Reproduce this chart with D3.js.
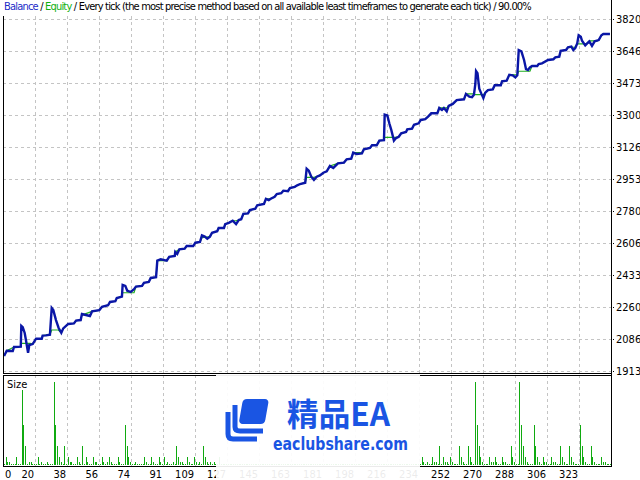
<!DOCTYPE html>
<html>
<head>
<meta charset="utf-8">
<script src="https://cdn.jsdelivr.net/npm/d3@7"></script>
<style>
  body { margin: 0; background: #fff; }
  svg text { font-family: "Liberation Sans Narrow", "DejaVu Sans Condensed", "Liberation Sans", sans-serif; }
</style>
</head>
<body>
<svg id="chart" width="640" height="480"></svg>
<script>
// ---- data ----
var tradeCount = 342;
var yTickLabels = ["1913", "2086", "2260", "2433", "2606", "2780", "2953", "3126", "3300", "3473", "3646", "3820"];
var xTickLabels = ["0", "20", "38", "56", "74", "91", "109", "127", "145", "163", "181", "198", "216", "234", "252", "270", "288", "306", "323"];
var tradesPerTick = 18;

// [trade, balance]
var balance = [[0.6,1994],[2.1,2023],[5.5,2021],[6.2,2043],[10,2045],[10.3,2157],[11.1,2150],[12.2,2119],[12.9,2081],[14.1,2012],
  [14.8,2054],[16.7,2059],[18.6,2088],[21.8,2088],[22.3,2105],[24.2,2106],[26.4,2110],[27.4,2254],[28.3,2243],[29.8,2189],
  [31.3,2146],[32.8,2120],[33.9,2144],[36.7,2168],[39.9,2171],[41.1,2186],[43.7,2189],[44.4,2222],[48.9,2211],[50.1,2236],
  [54.2,2243],[55.7,2261],[59.1,2269],[60.2,2287],[63.2,2291],[64,2308],[66.9,2316],[67.3,2379],[68.8,2374],[69.9,2348],
  [71.8,2341],[73.7,2356],[74.8,2370],[78.2,2374],[79.3,2391],[82,2395],[83.1,2417],[86.1,2421],[86.8,2511],[88.7,2518],
  [92.1,2511],[93.5,2532],[96.6,2536],[96.9,2558],[98,2547],[99.2,2572],[102.2,2576],[103.3,2590],[107,2590],[108.2,2608],
  [110.8,2612],[111.9,2648],[113.5,2641],[114.9,2630],[116.4,2641],[117.6,2662],[120.5,2670],[121.3,2688],[124.3,2688],[125,2709],
  [127,2716],[129.2,2727],[131.1,2709],[132.6,2731],[134,2735],[135.2,2764],[137.8,2767],[138.9,2785],[141.9,2792],[143,2811],
  [146.8,2818],[147.9,2846],[149.5,2839],[150.6,2846],[152.8,2857],[154,2872],[156.5,2876],[157.7,2890],[160.3,2887],[161.4,2904],
  [164.1,2911],[165.5,2919],[167.1,2926],[170,2933],[170.8,3009],[172,2998],[173.4,2966],[174.9,2948],[176.5,2966],[178.3,2973],
  [180.2,2987],[182.1,2995],[183.9,3024],[185.8,3013],[188.4,3038],[191.8,3042],[193.3,3060],[195.9,3063],[197,3096],[198.9,3089],
  [201.9,3092],[203,3114],[206.4,3121],[207.6,3136],[210.2,3136],[211.7,3161],[214.3,3164],[214.7,3302],[216.2,3298],[217.3,3255],
  [218.4,3219],[219.9,3161],[221.1,3175],[222.6,3182],[224,3201],[226.7,3208],[227.4,3222],[230.1,3226],[231.2,3247],[233.8,3255],
  [235,3273],[237.5,3277],[239.1,3291],[240.9,3309],[244.3,3309],[245.4,3338],[246.9,3327],[248,3338],[249.6,3320],[250.7,3349],
  [253,3360],[255.2,3381],[259.3,3385],[260.4,3414],[262.3,3399],[263.8,3396],[264.9,3410],[265.7,3468],[266.1,3538],[266.9,3527],
  [267.9,3442],[269,3417],[270.2,3392],[271.3,3421],[272.8,3435],[275.5,3439],[276.6,3461],[280,3461],[280.7,3482],[283.3,3486],
  [284.8,3518],[286.7,3515],[288.2,3504],[289.3,3515],[290.1,3652],[291.6,3645],[293.1,3598],[294.2,3548],[295.3,3544],[296.4,3558],
  [297.6,3565],[300.5,3565],[301.3,3576],[303.2,3580],[306.6,3598],[309.6,3602],[310.7,3612],[312.9,3616],[313.7,3648],[316.7,3652],
  [317.8,3667],[319.7,3670],[320.8,3652],[321.9,3663],[323,3688],[323.8,3732],[325,3724],[325.7,3702],[327.5,3677],[328.6,3688],
  [329.8,3699],[331.3,3674],[332.8,3699],[335.1,3706],[336.6,3732],[337.7,3739],[341.4,3739]];

// [trade, equity]
var equity = [[0.6,1994],[2.1,2023],[6.2,2043],[10,2045],[10.3,2063],[15.2,2063],[16.7,2059],[18.6,2088],[21.8,2088],[22.3,2105],
  [26.4,2110],[27.4,2135],[31.1,2135],[32.8,2120],[33.9,2144],[36.7,2168],[39.9,2171],[41.1,2186],[43.7,2189],[44.4,2216],
  [50.1,2236],[54.2,2243],[55.7,2261],[59.1,2269],[60.2,2287],[63.2,2291],[64,2308],[66.9,2316],[67.3,2337],[73.7,2337],
  [74.8,2370],[78.2,2374],[79.3,2391],[82,2395],[83.1,2417],[86.1,2421],[86.8,2511],[92.1,2511],[93.5,2532],[96.6,2536],
  [96.9,2558],[99.2,2572],[102.2,2576],[103.3,2590],[107,2590],[108.2,2608],[110.8,2612],[111.9,2635],[116.4,2641],[117.6,2662],
  [120.5,2670],[121.3,2688],[124.3,2688],[125,2709],[127,2716],[129.2,2727],[131.1,2727],[132.6,2731],[134,2735],[135.2,2764],
  [137.8,2767],[138.9,2785],[141.9,2792],[143,2811],[146.8,2818],[147.9,2846],[150.6,2846],[152.8,2857],[154,2872],[156.5,2876],
  [157.7,2890],[160.3,2890],[161.4,2904],[164.1,2911],[167.1,2926],[170,2933],[170.8,2962],[174.9,2962],[176.5,2966],[178.3,2973],
  [180.2,2987],[182.1,2995],[183.9,3024],[188.4,3038],[191.8,3042],[193.3,3060],[195.9,3063],[197,3096],[201.9,3096],[203,3114],
  [206.4,3121],[207.6,3136],[210.2,3136],[211.7,3161],[214.3,3164],[214.7,3179],[221.1,3179],[222.6,3182],[224,3201],[226.7,3208],
  [227.4,3222],[230.1,3226],[231.2,3247],[233.8,3255],[235,3273],[237.5,3277],[239.1,3291],[240.9,3309],[244.3,3309],[245.4,3338],
  [249.6,3338],[250.7,3349],[253,3360],[255.2,3381],[259.3,3385],[260.4,3414],[264.9,3414],[265.7,3410],[270.2,3410],[271.3,3421],
  [272.8,3435],[275.5,3439],[276.6,3461],[280,3461],[280.7,3482],[283.3,3486],[284.8,3518],[289.3,3518],[290.1,3537],[296.4,3537],
  [297.6,3565],[300.5,3565],[301.3,3576],[303.2,3580],[306.6,3598],[309.6,3602],[310.7,3612],[312.9,3616],[313.7,3648],[316.7,3652],
  [317.8,3667],[321.9,3667],[323,3685],[327.5,3685],[328.6,3688],[329.8,3702],[334.3,3702],[335.1,3706],[336.6,3732],[337.7,3739],
  [341.4,3739]];

// lot sizes of trades above the minimum lot (all other trades = minLot)
var minLot = 0.01, maxLot = 0.32;
var lotTrades = [1,2,3,7,10,11,12,14,15,19,21,24,28,29,30,31,32,34,36,37,38,41,42,44,46,47,50,51,52,55,56,58,59,60,64,65,
  68,69,70,71,74,79,80,83,84,87,88,90,92,95,97,98,99,100,103,104,107,108,110,112,113,114,116,118,121,
  235,236,238,241,242,243,245,247,248,249,251,252,256,257,258,261,262,263,265,266,267,268,269,273,274,275,276,277,280,281,282,
  285,286,287,290,291,292,293,294,298,299,300,301,303,304,305,308,309,310,313,314,315,318,319,320,324,325,326,327,330,331,332,336,337,338];
var lotSizes = [0.04,0.02,0.02,0.04,0.29,0.16,0.08,0.02,0.02,0.04,0.02,0.02,0.32,0.16,0.08,0.04,0.02,0.08,0.04,0.02,0.02,0.04,0.02,0.08,0.04,0.02,0.04,0.02,0.02,0.04,0.02,0.02,0.04,0.02,0.04,0.02,
  0.16,0.08,0.04,0.02,0.02,0.04,0.02,0.04,0.02,0.04,0.02,0.04,0.02,0.02,0.08,0.04,0.02,0.02,0.04,0.02,0.04,0.02,0.02,0.08,0.04,0.02,0.02,0.02,0.04,
  0.04,0.02,0.02,0.04,0.02,0.02,0.08,0.04,0.02,0.02,0.04,0.02,0.08,0.04,0.02,0.08,0.04,0.02,0.32,0.16,0.08,0.04,0.02,0.04,0.02,0.02,0.04,0.02,0.04,0.02,0.02,
  0.08,0.04,0.02,0.32,0.16,0.08,0.04,0.02,0.16,0.08,0.04,0.02,0.04,0.02,0.02,0.04,0.02,0.02,0.08,0.04,0.02,0.08,0.04,0.02,0.16,0.08,0.04,0.02,0.08,0.04,0.02,0.04,0.02,0.02];

// ---- layout ----
var left = 3, right = 611;
var mainTop = 16, mainBottom = 373;
var sizeTop = 375, sizeBottom = 466;

var svg = d3.select("#chart");

var x = d3.scaleLinear().domain([0, tradeCount]).range([left, right]);
var y = d3.scaleLinear().domain([+yTickLabels[0], +yTickLabels[yTickLabels.length - 1]]).range([371, 19]);
var ySize = d3.scaleLinear().domain([minLot, maxLot]).range([465, 382]);

svg.append("rect").attr("width", 640).attr("height", 480).attr("fill", "#fff");

var grid = svg.append("g")
    .attr("stroke", "#c4c4c4")
    .attr("stroke-dasharray", "3,3")
    .attr("shape-rendering", "crispEdges");

// horizontal grid of balance panel
grid.selectAll("line.h")
  .data(yTickLabels)
  .enter().append("line")
    .attr("class", "h")
    .attr("x1", left).attr("x2", right)
    .attr("y1", function(d) { return Math.round(y(+d)) + 0.5; })
    .attr("y2", function(d) { return Math.round(y(+d)) + 0.5; });

// vertical grid, both panels
xTickLabels.forEach(function(d, i) {
  if (i == 0) return;
  var gx = Math.round(x(i * tradesPerTick)) + 0.5;
  grid.append("line").attr("x1", gx).attr("x2", gx).attr("y1", mainTop).attr("y2", mainBottom);
  grid.append("line").attr("x1", gx).attr("x2", gx).attr("y1", sizeTop).attr("y2", sizeBottom);
});

// ---- balance / equity ----
svg.append("clipPath").attr("id", "mainClip")
  .append("rect").attr("x", left).attr("y", mainTop).attr("width", right - left).attr("height", mainBottom - mainTop);

var line = d3.line()
    .x(function(d) { return x(d[0]); })
    .y(function(d) { return y(d[1]); });

var plot = svg.append("g").attr("clip-path", "url(#mainClip)");

plot.append("path")
    .datum(equity)
    .attr("fill", "none")
    .attr("stroke", "#1fae1f")
    .attr("stroke-width", 1.2)
    .attr("d", line);

plot.append("path")
    .datum(balance)
    .attr("fill", "none")
    .attr("stroke", "#0a16a6")
    .attr("stroke-width", 2.4)
    .attr("stroke-linejoin", "miter")
    .attr("d", line);

// ---- size panel ----
var lotOf = {};
lotTrades.forEach(function(t, i) { lotOf[t] = lotSizes[i]; });
var trades = d3.range(tradeCount);

var bars = svg.append("g").attr("shape-rendering", "crispEdges");
bars.selectAll("rect")
  .data(trades)
  .enter().append("rect")
    .attr("x", function(t) { return Math.round(x(t + 0.5)); })
    .attr("width", 1)
    .attr("y", function(t) { var l = lotOf[t] || minLot; return Math.min(Math.round(ySize(l)), 464); })
    .attr("height", function(t) { var l = lotOf[t] || minLot; return 465 - Math.min(Math.round(ySize(l)), 464); })
    .attr("fill", "#10aa10");

// ---- frames ----
var frame = svg.append("g").attr("stroke", "#000").attr("shape-rendering", "crispEdges").attr("fill", "none");
frame.append("line").attr("x1", left + 0.5).attr("x2", left + 0.5).attr("y1", mainTop).attr("y2", mainBottom + 1);
frame.append("line").attr("x1", left).attr("x2", right + 1).attr("y1", mainBottom + 0.5).attr("y2", mainBottom + 0.5);
frame.append("line").attr("x1", right + 0.5).attr("x2", right + 0.5).attr("y1", 0).attr("y2", sizeBottom + 1);
frame.append("line").attr("x1", left).attr("x2", right + 1).attr("y1", sizeTop + 0.5).attr("y2", sizeTop + 0.5);
frame.append("line").attr("x1", left + 0.5).attr("x2", left + 0.5).attr("y1", sizeTop).attr("y2", sizeBottom + 1);
frame.append("line").attr("x1", left).attr("x2", right + 1).attr("y1", sizeBottom + 0.5).attr("y2", sizeBottom + 0.5);

// ---- axes labels ----
var yAxis = svg.append("g").attr("font-size", 11).attr("fill", "#000");
yTickLabels.forEach(function(d) {
  var ty = Math.round(y(+d));
  yAxis.append("rect").attr("x", 613).attr("y", ty).attr("width", 1).attr("height", 1).attr("fill", "#000");
  yAxis.append("text").attr("x", 616).attr("y", ty + 4).text(d);
});

var xAxis = svg.append("g").attr("font-size", 11).attr("fill", "#000");
xTickLabels.forEach(function(d, i) {
  var gx = x(i * tradesPerTick);
  xAxis.append("text")
    .attr("x", i == 0 ? gx + 2 : gx - 1)
    .attr("y", 478)
    .attr("text-anchor", i == 0 ? "start" : "end")
    .text(d);
});

svg.append("text").attr("x", 7).attr("y", 388).attr("font-size", 11).text("Size");

// ---- header ----
var headParts = [["Balance", "#1c2cc8"], [" / ", "#000"], ["Equity", "#10b010"],
  [" / Every tick (the most precise method based on all available least timeframes to generate each tick) / 90.00%", "#000"]];
var head = svg.append("text").attr("x", 4).attr("y", 10).attr("font-size", 11);
headParts.forEach(function(p) { head.append("tspan").attr("fill", p[1]).text(p[0]); });
// squeeze the title to the width it has in the report
var nChars = d3.sum(headParts, function(p) { return p[0].length; });
var natural = head.node().getComputedTextLength();
head.attr("letter-spacing", ((527 - natural) / nChars).toFixed(3));

// ---- watermark ----
var wm = svg.append("g");
wm.append("rect").attr("x", 216).attr("y", 374).attr("width", 204).attr("height", 106)
    .attr("fill", "#fff").attr("opacity", 0.92);
var blue = "#1a55e3";
wm.append("rect").attr("x", 0).attr("y", 0).attr("width", 26).attr("height", 25).attr("rx", 4)
    .attr("fill", blue).attr("transform", "translate(243,399) skewX(-10)");
wm.append("path").attr("d", "M235,405 L235,427 Q235,431 240,431 L263,431")
    .attr("fill", "none").attr("stroke", blue).attr("stroke-width", 5);
wm.append("path").attr("d", "M228,412 L228,434 Q228,439 233,439 L257,439")
    .attr("fill", "none").attr("stroke", blue).attr("stroke-width", 5);
wm.append("text").attr("x", 287).attr("y", 426).attr("font-size", 32).attr("font-weight", "bold")
    .attr("fill", blue).style("font-family", "'Noto Sans CJK SC', sans-serif")
    .attr("textLength", 103).attr("lengthAdjust", "spacingAndGlyphs").text("精品EA");
wm.append("text").attr("x", 273).attr("y", 450).attr("font-size", 18).attr("font-weight", "bold")
    .attr("fill", blue).style("font-family", "'DejaVu Sans', sans-serif")
    .attr("textLength", 135).attr("lengthAdjust", "spacingAndGlyphs").text("eaclubshare.com");
</script>
</body>
</html>
